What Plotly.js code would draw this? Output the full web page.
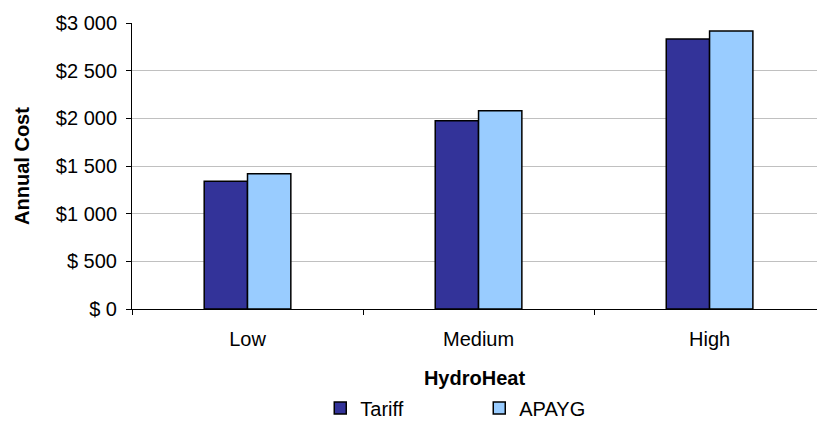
<!DOCTYPE html>
<html>
<head>
<meta charset="utf-8">
<script src="https://cdn.plot.ly/plotly-3.0.1.min.js"></script>
<style>html,body{margin:0;padding:0;background:#fff;}#chart{width:817px;height:422px;}</style>
</head>
<body>
<div id="chart"></div>
<script>
var categories = ["Low", "Medium", "High"];
var tariffValues = [1340, 1975, 2832];
var apaygValues = [1420, 2080, 2917];
var yTickValues = [0, 500, 1000, 1500, 2000, 2500, 3000];
var yTickLabels = ["$ 0", "$ 500", "$1 000", "$1 500", "$2 000", "$2 500", "$3 000"];

var font = "Liberation Sans, Arial, sans-serif";

var traces = [
  {type: "bar", name: "Tariff", x: categories, y: tariffValues,
   marker: {color: "#333399", line: {color: "#000000", width: 1.5}}},
  {type: "bar", name: "APAYG", x: categories, y: apaygValues,
   marker: {color: "#99CCFF", line: {color: "#000000", width: 1.5}}}
];

var layout = {
  width: 817, height: 422,
  margin: {l: 132, r: 0, t: 23, b: 113, pad: 0},
  paper_bgcolor: "#ffffff", plot_bgcolor: "#ffffff",
  font: {family: font, size: 20, color: "#000000"},
  barmode: "group", bargap: 0.625, bargroupgap: 0,
  showlegend: true,
  legend: {orientation: "h", xref: "container", yref: "container", x: 0.392, y: 0.033,
           xanchor: "left", yanchor: "middle", itemwidth: 30,
           font: {family: font, size: 20, color: "#000"}, traceorder: "normal",
           entrywidth: 114, entrywidthmode: "pixels"},
  xaxis: {type: "category", range: [-0.5, 2.465], tickson: "boundaries",
          ticks: "outside", ticklen: 5, tickcolor: "#000", showline: true,
          linecolor: "#000", linewidth: 1, showgrid: false, zeroline: false,
          ticklabelstandoff: 12,
          tickfont: {family: font, size: 20, color: "#000"},
          title: {text: "<b>HydroHeat</b>", font: {family: font, size: 20, color: "#000"}, standoff: 28}},
  yaxis: {range: [0, 3000], tickvals: yTickValues, ticktext: yTickLabels,
          ticks: "outside", ticklen: 5, tickcolor: "#000", showline: true,
          linecolor: "#000", linewidth: 1, showgrid: true, gridcolor: "#C0C0C0",
          gridwidth: 1, zeroline: false, ticklabelstandoff: 5,
          tickfont: {family: font, size: 20, color: "#000"},
          title: {text: "<b>Annual Cost</b>", font: {family: font, size: 20, color: "#000"}, standoff: 20}}
};

Plotly.newPlot("chart", traces, layout, {displayModeBar: false, staticPlot: true});
</script>
</body>
</html>
